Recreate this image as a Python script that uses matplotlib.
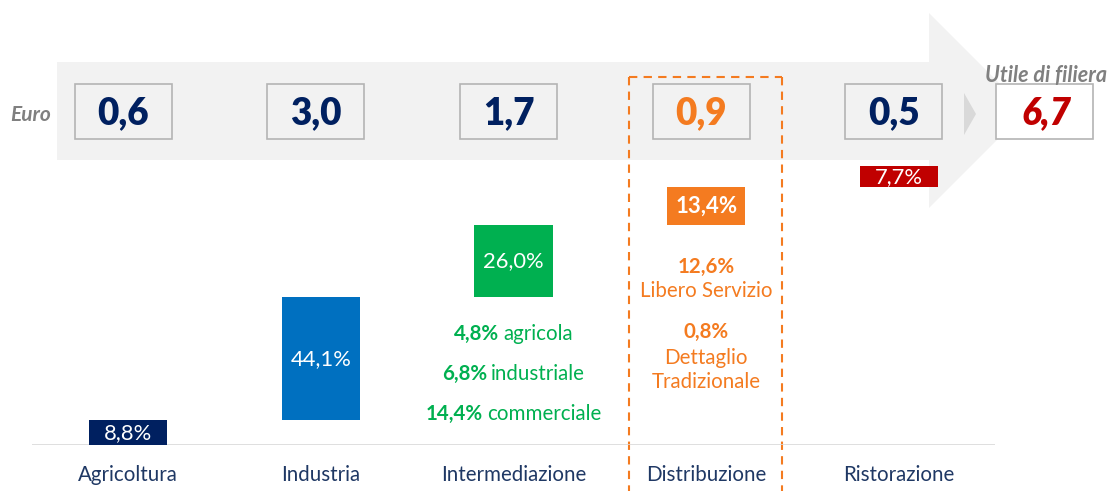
import numpy as np
import matplotlib
matplotlib.use("Agg")
import matplotlib.pyplot as plt
from matplotlib.patches import Polygon, Rectangle

# ==========================================
# DATA
# ==========================================
CATEGORIES = ["Agricoltura", "Industria", "Intermediazione", "Distribuzione", "Ristorazione"]
SHARE = [8.8, 44.1, 26.0, 13.4, 7.7]          # % of the value chain
EURO = [0.6, 3.0, 1.7, 0.9, 0.5]              # euro per step
EURO_TOTAL = 6.7                               # utile di filiera
INTERMED_PCT = [4.8, 6.8, 14.4]
INTERMED_NAMES = ["agricola", "industriale", "commerciale"]
DISTRIB_PCT = [12.6, 0.8]
DISTRIB_NAMES = ["Libero Servizio", "Dettaglio\nTradizionale"]

# ==========================================
# STYLE
# ==========================================
NAVY = "#002060"
BLUE = "#0070C0"
GREEN = "#00B050"
ORANGE = "#F47B20"
RED = "#C00000"
GREY_TXT = "#808080"
LABEL_COL = "#1F3864"
BAR_COLORS = [NAVY, BLUE, GREEN, ORANGE, RED]
EURO_COLORS = [NAVY, NAVY, NAVY, ORANGE, NAVY]
SUB_SIZE = 14.8

plt.rcParams["font.family"] = ["Lato", "DejaVu Sans"]

W, H = 1109, 491


def fmt(v, pct=True):
    s = f"{v:.1f}".replace(".", ",")
    return s + "%" if pct else s


fig = plt.figure(figsize=(W / 100, H / 100), dpi=100)

# background layer in pixel coordinates
bg = fig.add_axes([0, 0, 1, 1])
bg.set_xlim(0, W)
bg.set_ylim(H, 0)
bg.axis("off")

# bar layer
ax = fig.add_axes([32 / W, (H - 445) / H, 963 / W, 279 / H])
ax.patch.set_visible(False)
ax.set_xlim(-0.5, 4.5)
ax.set_ylim(0, 100)
ax.axis("off")

x = np.arange(len(CATEGORIES))
bottoms = np.concatenate([[0], np.cumsum(SHARE)[:-1]])
bars = ax.bar(x, SHARE, bottom=bottoms, width=0.405, color=BAR_COLORS, zorder=3)
ax.axhline(0, color="#d9d9d9", lw=1.2, zorder=1)
labels = ax.bar_label(bars, labels=[fmt(v) for v in SHARE], label_type="center",
                      color="white", fontsize=15.8)
labels[3].set_fontweight("bold")
labels[3].set_fontsize(16)

# pixel centres of each bar
cx = [ax.transData.transform((i, 0))[0] for i in x]

# big grey arrow
band = Polygon([(57, 62), (929, 62), (929, 13), (1026.5, 110.5),
                (929, 208), (929, 160), (57, 160)],
               closed=True, facecolor="#f2f2f2", edgecolor="none", zorder=1)
bg.add_patch(band)
bg.add_patch(Polygon([(964, 93), (976, 114), (964, 135)], closed=True,
                     facecolor="#d9d9d9", edgecolor="none", zorder=2))

# dashed highlight around Distribuzione
dash = dict(color=ORANGE, lw=1.5, linestyle=(0, (4, 3)), zorder=2)
bg.plot([629, 629], [77, H + 5], **dash)
bg.plot([782, 782], [77, H + 5], **dash)
bg.plot([629, 782], [77, 77], **dash)

# euro boxes
for c, v, col in zip(cx, EURO, EURO_COLORS):
    bc = c - 5
    bg.add_patch(Rectangle((bc - 48.5, 84), 97, 55, facecolor="#f2f2f2",
                           edgecolor="#b4b4b4", lw=1.2, zorder=3))
    bg.text(bc, 124.5, fmt(v, pct=False), ha="center", va="baseline",
            fontsize=26.5, fontweight="heavy", color=col, zorder=4)

bg.add_patch(Rectangle((996, 84), 97, 55, facecolor="white",
                       edgecolor="#b4b4b4", lw=1.2, zorder=3))
bg.text(1046, 124.5, fmt(EURO_TOTAL, pct=False), ha="center", va="baseline",
        fontsize=26.5, fontweight="heavy", fontstyle="italic", color=RED, zorder=4)

bg.text(10, 120.5, "Euro", ha="left", va="baseline", fontsize=15,
        fontweight="bold", fontstyle="italic", color=GREY_TXT, zorder=4)
bg.text(1107, 81.5, "Utile di filiera", ha="right", va="baseline", fontsize=15.5,
        fontweight="bold", fontstyle="italic", color=GREY_TXT, zorder=4)

# category labels
for c, name in zip(cx, CATEGORIES):
    bg.text(c, 481, name, ha="center", va="baseline", fontsize=14.8, color=LABEL_COL)

# mixed bold / regular lines under Intermediazione
renderer = fig.canvas.get_renderer()
gap = 4
for pct, name, yb in zip(INTERMED_PCT, INTERMED_NAMES, [340, 380, 420]):
    t1 = bg.text(0, yb, fmt(pct), ha="left", va="baseline", fontsize=SUB_SIZE,
                 fontweight="bold", color=GREEN)
    t2 = bg.text(0, yb, name, ha="left", va="baseline", fontsize=SUB_SIZE, color=GREEN)
    w1 = t1.get_window_extent(renderer).width
    w2 = t2.get_window_extent(renderer).width
    left = cx[2] - (w1 + gap + w2) / 2
    t1.set_x(left)
    t2.set_x(left + w1 + gap)

# Distribuzione breakdown
bg.text(cx[3], 272.5, fmt(DISTRIB_PCT[0]), ha="center", va="baseline",
        fontsize=SUB_SIZE, fontweight="bold", color=ORANGE)
bg.text(cx[3], 297, DISTRIB_NAMES[0], ha="center", va="baseline",
        fontsize=SUB_SIZE, color=ORANGE)
bg.text(cx[3], 337.5, fmt(DISTRIB_PCT[1]), ha="center", va="baseline",
        fontsize=SUB_SIZE, fontweight="bold", color=ORANGE)
for k, line in enumerate(DISTRIB_NAMES[1].split("\n")):
    bg.text(cx[3], 364 + 24.5 * k, line, ha="center", va="baseline",
            fontsize=SUB_SIZE, color=ORANGE)

fig.savefig("out.png", dpi=100)
